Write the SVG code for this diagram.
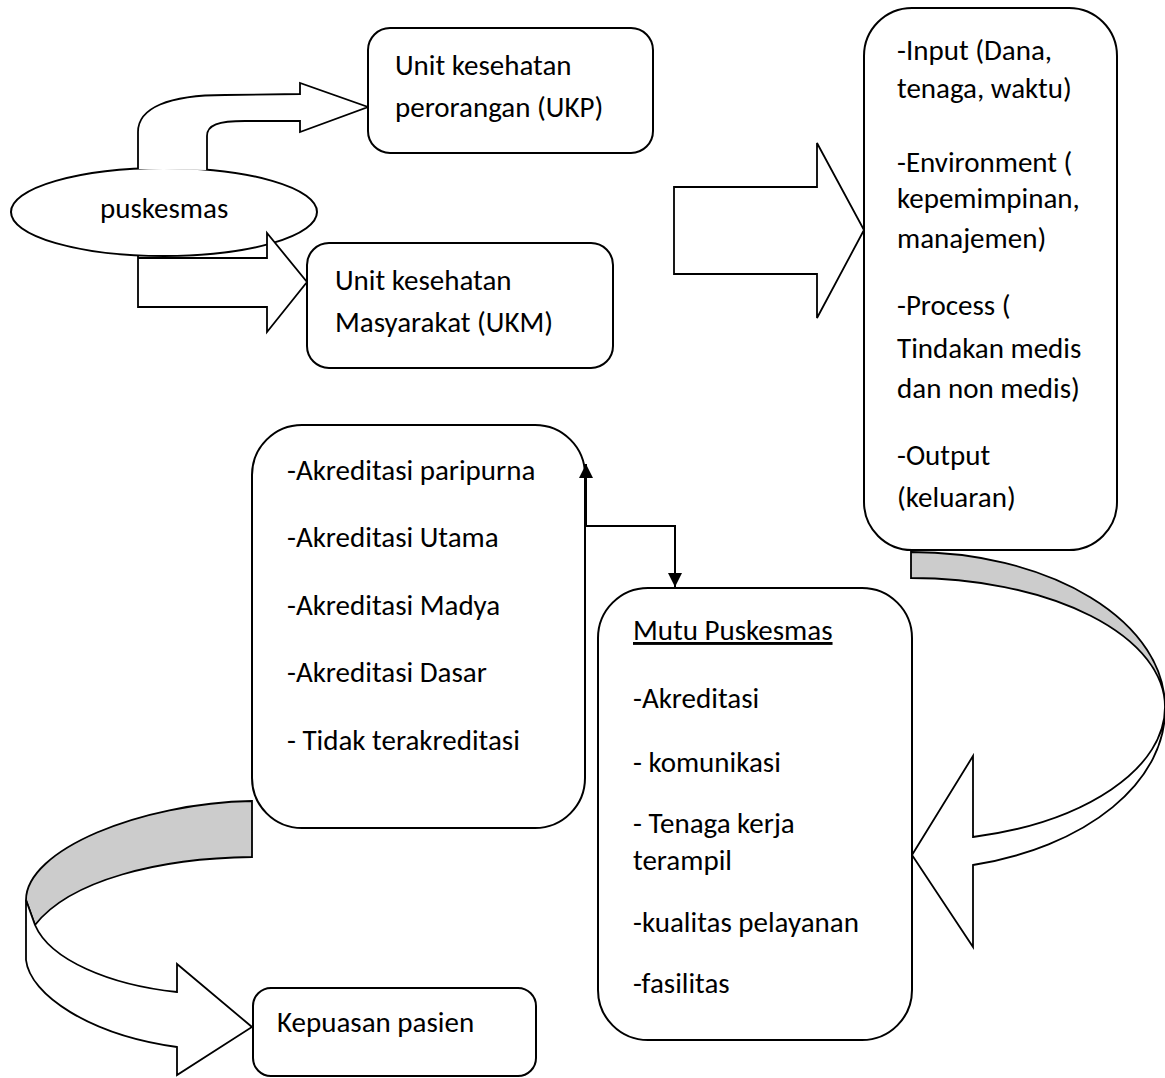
<svg xmlns="http://www.w3.org/2000/svg" width="1165" height="1078" viewBox="0 0 1165 1078">
<defs>
<style>
.box{fill:#fff;stroke:#000;stroke-width:2}
.shape{fill:#fff;stroke:#000;stroke-width:1.8;stroke-linejoin:miter}
.gray{fill:#cccccc;stroke:#000;stroke-width:1.8}
.t{font-family:Carlito,Calibri,Lato,"Liberation Sans",sans-serif;font-size:29px;fill:#000}
.conn{fill:none;stroke:#000;stroke-width:2}
</style>
<marker id="ah" viewBox="0 0 10 10" refX="10" refY="5" markerWidth="14" markerHeight="14" markerUnits="userSpaceOnUse" orient="auto">
<path d="M0,0 L10,5 L0,10 Z" fill="#000"/>
</marker>
</defs>
<rect width="1165" height="1078" fill="#fff"/>

<g id="puskesmas">
<ellipse class="box" cx="164" cy="212" rx="153" ry="44"/>
<text class="t" x="100" y="218">puskesmas</text>
</g>

<g id="arrow-ukp">
<path class="shape" d="M138,169 L138,132 C138,108 168,95 225,95 L300,94 L300,83 L368,107 L300,132 L300,121 L245,121 C218,121 207,125 207,136 L207,170"/>
</g>
<g id="arrow-ukm">
<path class="shape" d="M138,255 L138,307 L267,307 L267,332 L307,282 L267,233 L267,258 L138,258"/>
</g>

<g id="ukp">
<rect class="box" x="368" y="28" width="285" height="125" rx="22" ry="22"/>
<text class="t" x="395" y="75">Unit kesehatan</text>
<text class="t" x="395" y="117">perorangan (UKP)</text>
</g>

<g id="ukm">
<rect class="box" x="307" y="243" width="306" height="125" rx="22" ry="22"/>
<text class="t" x="335" y="290">Unit kesehatan</text>
<text class="t" x="335" y="332">Masyarakat (UKM)</text>
</g>

<g id="arrow-big">
<path class="shape" d="M674,187 L817,187 L817,143 L864,230 L817,318 L817,274 L674,274 Z"/>
</g>

<g id="ipo">
<rect class="box" x="864" y="8" width="253" height="542" rx="48" ry="48"/>
<text class="t" x="897" y="60">-Input (Dana,</text>
<text class="t" x="897" y="98">tenaga, waktu)</text>
<text class="t" x="897" y="172">-Environment (</text>
<text class="t" x="897" y="208">kepemimpinan,</text>
<text class="t" x="897" y="248">manajemen)</text>
<text class="t" x="897" y="315">-Process (</text>
<text class="t" x="897" y="358">Tindakan medis</text>
<text class="t" x="897" y="398">dan non medis)</text>
<text class="t" x="897" y="465">-Output</text>
<text class="t" x="897" y="507">(keluaran)</text>
</g>

<g id="arrow-curved-right">
<path class="gray" d="M911,552 A254,155 0 0 1 1165,707 A254,129 0 0 0 911,578 Z"/>
<path class="shape" d="M1165,707 A254,160 0 0 1 973,865 L973,947 L912,855 L973,756 L973,837 A254,134 0 0 0 1165,707 Z"/>
</g>

<g id="akreditasi">
<rect class="box" x="252" y="425" width="333" height="403" rx="50" ry="50"/>
<text class="t" x="287" y="480">-Akreditasi paripurna</text>
<text class="t" x="287" y="547">-Akreditasi Utama</text>
<text class="t" x="287" y="615">-Akreditasi Madya</text>
<text class="t" x="287" y="682">-Akreditasi Dasar</text>
<text class="t" x="287" y="750">- Tidak terakreditasi</text>
</g>

<g id="mutu">
<rect class="box" x="598" y="588" width="314" height="452" rx="50" ry="50"/>
<text class="t" x="633" y="640" text-decoration="underline">Mutu Puskesmas</text>
<text class="t" x="633" y="708">-Akreditasi</text>
<text class="t" x="633" y="772">- komunikasi</text>
<text class="t" x="633" y="833">- Tenaga kerja</text>
<text class="t" x="633" y="870">terampil</text>
<text class="t" x="633" y="932">-kualitas pelayanan</text>
<text class="t" x="633" y="993">-fasilitas</text>
</g>

<g id="arrow-curved-left">
<path class="gray" d="M252,801 C140,803 26,850 26,900 L35,925 C70,880 160,858 252,857 Z"/>
<path class="shape" d="M26,900 L26,960 C30,995 90,1035 177,1047 L177,1075 L252,1027 L177,964 L177,992 C110,985 50,960 35,925 Z"/>
</g>

<g id="kepuasan">
<rect class="box" x="253" y="988" width="283" height="88" rx="18" ry="18"/>
<text class="t" x="277" y="1032">Kepuasan pasien</text>
</g>

<g id="connectors">
<path class="conn" d="M586,526 L586,464" marker-end="url(#ah)"/>
<path class="conn" d="M586,526 L675,526 L675,587" marker-end="url(#ah)"/>
</g>
</svg>
